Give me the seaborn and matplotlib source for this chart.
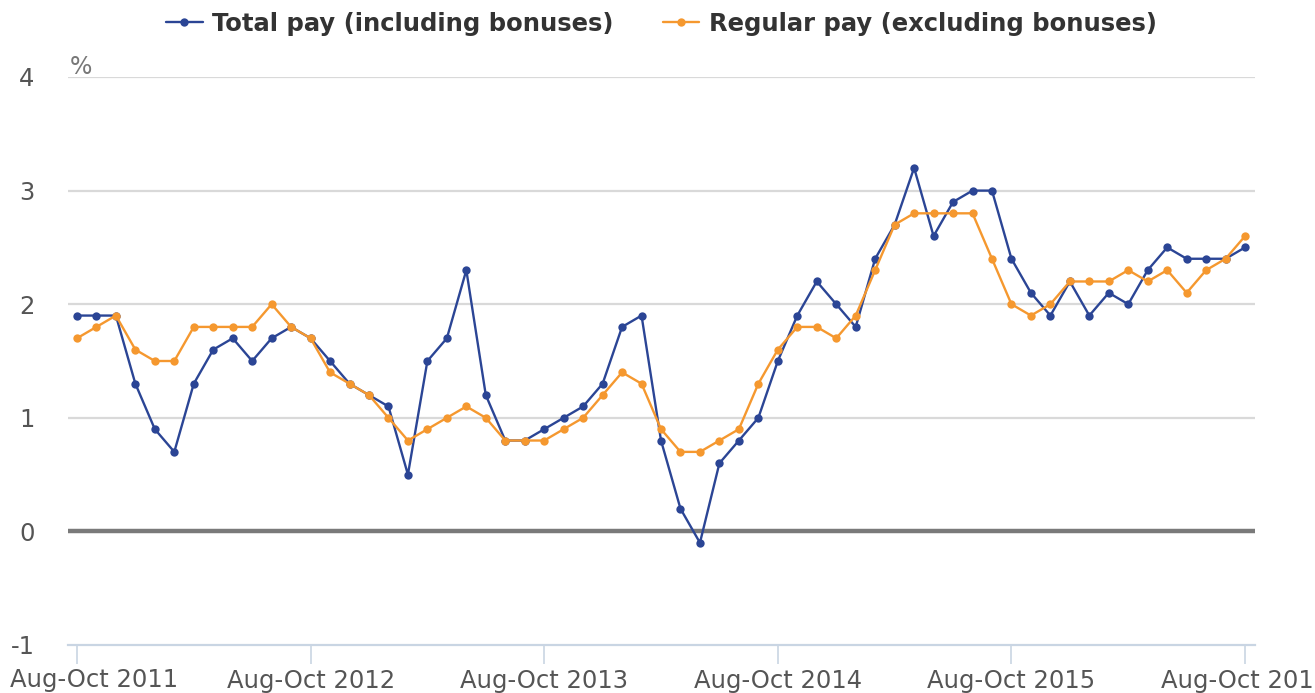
import matplotlib
matplotlib.use("Agg")
import matplotlib.pyplot as plt
import seaborn as sns
import pandas as pd
import numpy as np

periods = list(range(61))
tick_positions = [0, 12, 24, 36, 48, 60]
tick_labels = ["Aug-Oct 2011", "Aug-Oct 2012", "Aug-Oct 2013",
               "Aug-Oct 2014", "Aug-Oct 2015", "Aug-Oct 2016"]

total_pay = [1.9, 1.9, 1.9, 1.3, 0.9, 0.7, 1.3, 1.6, 1.7, 1.5, 1.7, 1.8,
             1.7, 1.5, 1.3, 1.2, 1.1, 0.5, 1.5, 1.7, 2.3, 1.2, 0.8, 0.8,
             0.9, 1.0, 1.1, 1.3, 1.8, 1.9, 0.8, 0.2, -0.1, 0.6, 0.8, 1.0,
             1.5, 1.9, 2.2, 2.0, 1.8, 2.4, 2.7, 3.2, 2.6, 2.9, 3.0, 3.0,
             2.4, 2.1, 1.9, 2.2, 1.9, 2.1, 2.0, 2.3, 2.5, 2.4, 2.4, 2.4, 2.5]
regular_pay = [1.7, 1.8, 1.9, 1.6, 1.5, 1.5, 1.8, 1.8, 1.8, 1.8, 2.0, 1.8,
               1.7, 1.4, 1.3, 1.2, 1.0, 0.8, 0.9, 1.0, 1.1, 1.0, 0.8, 0.8,
               0.8, 0.9, 1.0, 1.2, 1.4, 1.3, 0.9, 0.7, 0.7, 0.8, 0.9, 1.3,
               1.6, 1.8, 1.8, 1.7, 1.9, 2.3, 2.7, 2.8, 2.8, 2.8, 2.8, 2.4,
               2.0, 1.9, 2.0, 2.2, 2.2, 2.2, 2.3, 2.2, 2.3, 2.1, 2.3, 2.4, 2.6]

series_names = ["Total pay (including bonuses)", "Regular pay (excluding bonuses)"]
colors = ["#2b4595", "#f5982f"]

df = pd.DataFrame({
    "period": periods * 2,
    "value": total_pay + regular_pay,
    "series": [series_names[0]] * len(periods) + [series_names[1]] * len(periods),
})

sns.set_theme(style="white")
plt.rcParams['font.family'] = ['DejaVu Sans']

fig = plt.figure(figsize=(13.15, 6.93), dpi=100)
ax = fig.add_axes([68/1315, 48/693, (1255-68)/1315, (645-77)/693])

for y in [1, 2, 3, 4]:
    ax.axhline(y, color="#d9d9d9", lw=1.6, zorder=0)
ax.axhline(0, color="#7a7a7a", lw=3.2, zorder=1)

sns.lineplot(data=df, x="period", y="value", hue="series",
             palette=dict(zip(series_names, colors)), marker="o",
             markersize=6, markeredgewidth=0, linewidth=1.7, ax=ax, zorder=3)

ax.set_xlim(-0.46, 60.51)
ax.set_ylim(-1, 4)
ax.set_yticks([-1, 0, 1, 2, 3, 4])
ax.set_yticklabels(["-1", "0", "1", "2", "3", "4"])
ax.set_xticks(tick_positions)
# first label is drawn separately, shifted right to stay inside the figure
ax.set_xticklabels([""] + tick_labels[1:])
ax.set_xlabel("")
ax.set_ylabel("")

for s in ["top", "right", "left"]:
    ax.spines[s].set_visible(False)
ax.spines["bottom"].set_color("#c9d5e3")
ax.spines["bottom"].set_linewidth(1.6)

ax.tick_params(axis="x", which="both", length=14, width=1.2, color="#c9d5e3",
               labelsize=17.5, labelcolor="#555555", pad=3, direction="out", bottom=True)
ax.tick_params(axis="y", length=0, labelsize=17.5, labelcolor="#555555", pad=24)

fig.text(10/1315, 1 - 668/693, tick_labels[0], fontsize=17.5, color="#555555",
         va="top", ha="left")

fig.text(70/1315, 1 - 67/693, "%", fontsize=17, color="#777777",
         va="center", ha="left")

handles, labels = ax.get_legend_handles_labels()
leg = ax.legend(handles, labels, loc="center", bbox_to_anchor=(0.5, (693 - 24 - 48) / (645 - 77)),
                ncol=2, frameon=False, handlelength=1.5, columnspacing=2.0,
                handletextpad=0.4, prop={"weight": "bold", "size": 17.5})
for t in leg.get_texts():
    t.set_color("#333333")

fig.savefig("out.png", dpi=100)
